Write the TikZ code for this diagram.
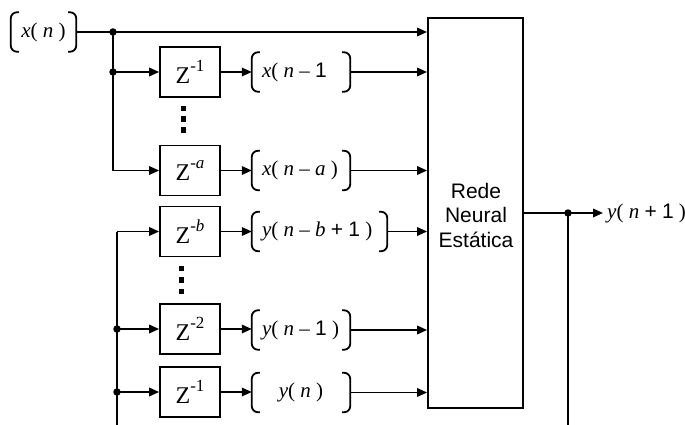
\documentclass[tikz,border=0pt]{standalone}
\usepackage{fontspec}
\setmainfont{Liberation Serif}
\newfontfamily\sansf{Liberation Sans}
\usetikzlibrary{arrows.meta}
\newcommand\vi[1]{\textit{#1}}
\newcommand\zsup[1]{Z\raisebox{0.52em}{\fontsize{17}{17}\selectfont #1}}
\newcommand\brk[1]{%
  \draw[ln,rounded corners=6pt] ([xshift=8pt]#1.north west) -- (#1.north west) -- (#1.south west) -- ([xshift=8pt]#1.south west);
  \draw[ln,rounded corners=6pt] ([xshift=-8pt]#1.north east) -- (#1.north east) -- (#1.south east) -- ([xshift=-8pt]#1.south east);}
\tikzset{
  ln/.style={line width=1.8pt},
  arr/.style={ln,-{Triangle[length=10pt,width=8.5pt]}},
  zbox/.style={draw,line width=1.8pt,minimum width=60pt,minimum height=50pt,inner sep=0pt,font=\fontsize{24}{24}\selectfont},
  bk/.style={minimum height=39pt,inner sep=0pt},
  lbl/.style={inner sep=0pt,font=\fontsize{21}{21}\selectfont},
  jdot/.style={circle,fill,inner sep=0pt,minimum size=7.5pt},
  sq/.style={fill,inner sep=0pt,minimum size=5.5pt},
}
\begin{document}
\begin{tikzpicture}[x=1pt,y=-1pt]
\useasboundingbox (0,0) rectangle (685,425);
% neural network box
\node[draw,ln,minimum width=95pt,minimum height=390pt,inner sep=0pt] (rede) at (475.5,213) {};
\node[font=\sansf\fontsize{21}{24.5}\selectfont,align=center] (redetxt) at (476,215) {Rede\\Neural\\Estática};
% delay boxes
\node[zbox] (z1) at (190,72) {\zsup{-1}};
\node[zbox] (za) at (190,170.5) {\zsup{-\vi{a}}};
\node[zbox] (zb) at (190,231.5) {\zsup{-\vi{b}}};
\node[zbox] (z2) at (190,329) {\zsup{-2}};
\node[zbox] (z1b) at (190,392) {\zsup{-1}};
% bracket nodes
\node[bk,minimum width=65pt] (xn) at (43.5,32) {};
\node[bk,minimum width=98pt] (bx1) at (301,72) {};
\node[bk,minimum width=98pt] (bxa) at (301,170.5) {};
\node[bk,minimum width=135pt] (byb) at (319.5,231.5) {};
\node[bk,minimum width=98pt] (by2) at (301,330) {};
\node[bk,minimum width=98pt] (by1) at (301,392.5) {};
\brk{xn}\brk{bx1}\brk{bxa}\brk{byb}\brk{by2}\brk{by1}
% labels
\node[lbl] (txn) at (xn.center) {\vi{x}( \vi{n} )};
\node[lbl,anchor=west] (tbx1) at ([xshift=10pt]bx1.west) {\vi{x}( \vi{n} – {\sansf 1}};
\node[lbl,anchor=west] (tbxa) at ([xshift=10pt]bxa.west) {\vi{x}( \vi{n} – \vi{a} )};
\node[lbl,anchor=west] (tbyb) at ([xshift=10pt]byb.west) {\vi{y}( \vi{n} – \vi{b} {\sansf +} {\sansf 1} )};
\node[lbl,anchor=west] (tby2) at ([xshift=10pt]by2.west) {\vi{y}( \vi{n} – {\sansf 1} )};
\node[lbl] (tby1) at (by1.center) {\vi{y}( \vi{n} )};
\node[lbl,anchor=west,inner xsep=4pt] (yout) at (603,213) {\vi{y}( \vi{n} {\sansf +} {\sansf 1} )};
% junctions
\coordinate (j0) at (113,32);
\coordinate (j1) at (113,72);
\coordinate (ja) at (113,170.5);
\coordinate (bb) at (117,425);
\coordinate (jb) at (117,231.5);
\coordinate (j2) at (117,329);
\coordinate (j3) at (117,392);
\coordinate (oj) at (568,213);
\coordinate (fb) at (568,425);
% connectors
\draw[arr] (xn.east) -- (xn.east -| rede.west);
\draw[ln] (j0) -- (ja);
\draw[arr] (ja) -- (za.west);
\draw[arr] (j1) -- (z1.west);
\draw[ln] (bb) -- (jb);
\draw[arr] (jb) -- (zb.west);
\draw[arr] (j2) -- (z2.west);
\draw[arr] (j3) -- (z1b.west);
\foreach \z/\b in {z1/bx1,za/bxa,zb/byb,z2/by2,z1b/by1}{
  \draw[arr] (\z.east) -- (\z.east -| \b.west);
  \draw[arr] (\b.east) -- (\b.east -| rede.west);
}
\draw[arr] (rede.east) -- (yout.west);
\draw[ln] (oj) -- (fb);
\foreach \j in {j0,j1,j2,j3,oj} \node[jdot] at (\j) {};
% vertical ellipses
\node[sq] (d1) at (183.5,108.5) {};
\node[sq] (d2) at (183.5,119) {};
\node[sq] (d3) at (183.5,130) {};
\node[sq] (d4) at (181.5,268.5) {};
\node[sq] (d5) at (181.5,280) {};
\node[sq] (d6) at (181.5,291.5) {};
\end{tikzpicture}
\end{document}
